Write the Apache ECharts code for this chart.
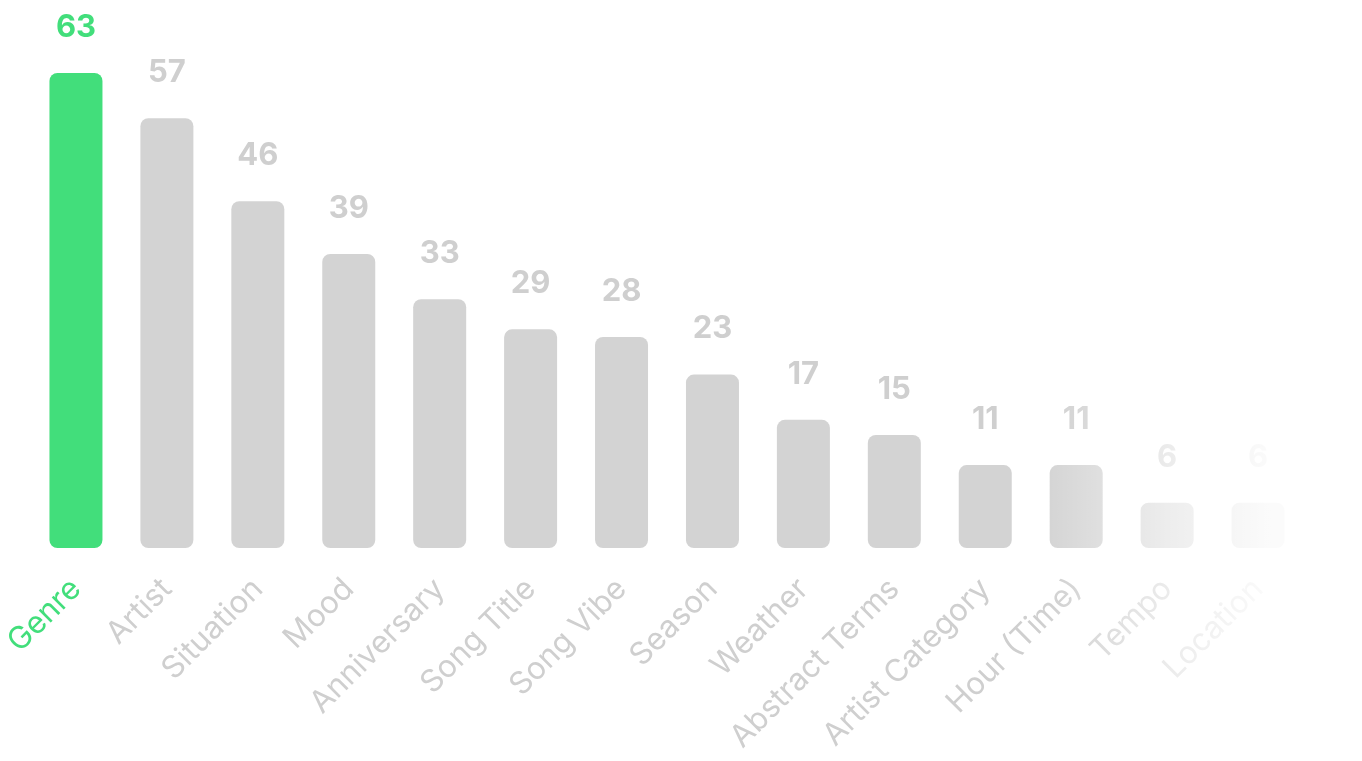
<!DOCTYPE html>
<html>
<head>
<meta charset="utf-8">
<script src="https://cdn.jsdelivr.net/npm/echarts@6/dist/echarts.min.js"></script>
<style>
  html, body { margin: 0; padding: 0; background: #fff; }
  #chart { width: 1362px; height: 761px; }
</style>
</head>
<body>
<div id="chart"></div>
<script>
const categories = ['Genre', 'Artist', 'Situation', 'Mood', 'Anniversary', 'Song Title', 'Song Vibe',
  'Season', 'Weather', 'Abstract Terms', 'Artist Category', 'Hour (Time)', 'Tempo', 'Location']
const counts = [63, 57, 46, 39, 33, 29, 28, 23, 17, 15, 11, 11, 6, 6]
const highlightIndex = 0

const green = '#42de7b'
const grey = '#d3d3d3'
const labelGrey = '#cfcfcf'

const chart = echarts.init(document.getElementById('chart'))

const barData = counts.map((v, i) => {
  if (i !== highlightIndex) return v
  return {
    value: v,
    itemStyle: { color: green },
    label: { color: green }
  }
})

chart.setOption({
  backgroundColor: '#fff',
  animation: false,
  grid: { left: 30.5, right: 58.5, top: 73, bottom: 213, containLabel: false },
  xAxis: {
    type: 'category',
    data: categories,
    axisLine: { show: false },
    axisTick: { show: false },
    axisLabel: {
      interval: 0,
      rotate: 45,
      margin: 36,
      fontFamily: 'Inter',
      fontSize: 31,
      color: (value, index) => (index === highlightIndex ? green : labelGrey)
    }
  },
  yAxis: {
    type: 'value',
    min: 0,
    max: 63,
    show: false,
    splitLine: { show: false }
  },
  series: [{
    type: 'bar',
    data: barData,
    barWidth: 53,
    itemStyle: { color: grey, borderRadius: 8 },
    label: {
      show: true,
      position: 'top',
      distance: 30,
      fontFamily: 'Inter',
      fontWeight: 'bold',
      fontSize: 31,
      color: labelGrey
    }
  }],
  // white fade over the right end of the chart
  graphic: [{
    type: 'rect',
    z: 100,
    silent: true,
    shape: { x: 1040, y: 0, width: 322, height: 761 },
    style: {
      fill: new echarts.graphic.LinearGradient(0, 0, 1, 0, [
        { offset: 0, color: 'rgba(255,255,255,0)' },
        { offset: 0.4, color: 'rgba(255,255,255,0.6)' },
        { offset: 0.7, color: 'rgba(255,255,255,0.9)' },
        { offset: 1, color: 'rgba(255,255,255,1)' }
      ])
    }
  }]
})
</script>
</body>
</html>
